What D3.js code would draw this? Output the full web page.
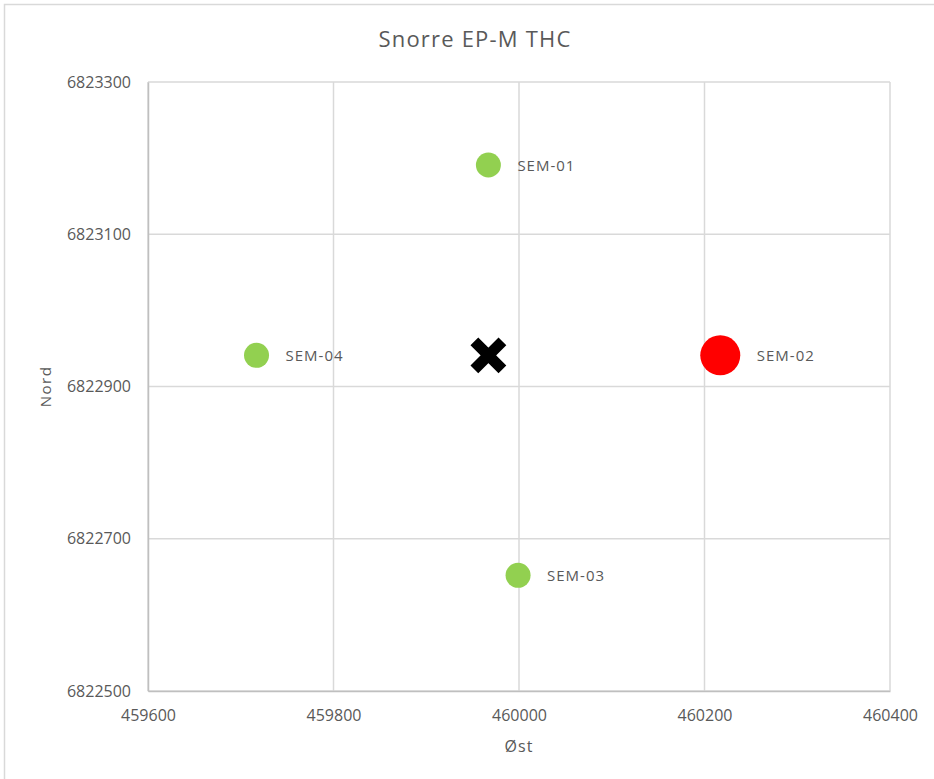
<!DOCTYPE html>
<html><head><meta charset="utf-8">
<script src="https://cdn.jsdelivr.net/npm/d3@7"></script>
<style>body{margin:0;background:#fff;}svg, svg text{font-family:"Open Sans","Liberation Sans",sans-serif;}svg{display:block;}</style>
</head><body>
<script>
const stations = ["SEM-01", "SEM-02", "SEM-03", "SEM-04"];
const east = [459967, 460217, 459999, 459717];
const north = [6823191, 6822941, 6822652, 6822941];
const level = ["low", "high", "low", "low"];
const center = {east: 459967, north: 6822941};
const xTicks = [459600, 459800, 460000, 460200, 460400];
const yTicks = [6822500, 6822700, 6822900, 6823100, 6823300];

const W = 934, H = 779;
const m = {left: 148, right: 44, top: 82, bottom: 88};
const svg = d3.select("body").append("svg").attr("width", W).attr("height", H);
svg.append("rect").attr("x", 4.5).attr("y", 4.5).attr("width", W + 10).attr("height", H + 10)
  .attr("fill", "#fff").attr("stroke", "#d9d9d9").attr("stroke-width", 1.5);

const x = d3.scaleLinear().domain([459600, 460400]).range([m.left, W - m.right]);
const y = d3.scaleLinear().domain([6822500, 6823300]).range([H - m.bottom, m.top]);

const grid = svg.append("g");
grid.selectAll(".vx").data(xTicks).join("line")
  .attr("x1", d => x(d)).attr("x2", d => x(d)).attr("y1", y.range()[1]).attr("y2", y.range()[0])
  .attr("stroke", "#d9d9d9").attr("stroke-width", 1.5);
grid.selectAll(".hy").data(yTicks).join("line")
  .attr("y1", d => y(d)).attr("y2", d => y(d)).attr("x1", x.range()[0]).attr("x2", x.range()[1])
  .attr("stroke", "#d9d9d9").attr("stroke-width", 1.5);

const xAxis = svg.append("g").attr("transform", `translate(0,${y.range()[0]})`)
  .call(d3.axisBottom(x).tickValues(xTicks).tickFormat(d3.format("d")).tickSize(0).tickPadding(19));
xAxis.select(".domain").attr("stroke", "#bfbfbf").attr("stroke-width", 1.5);
xAxis.selectAll("text").attr("fill", "#595959").style("font-size", "16px");

const yAxis = svg.append("g").attr("transform", `translate(${x.range()[0]},0)`)
  .call(d3.axisLeft(y).tickValues(yTicks).tickFormat(d3.format("d")).tickSize(0).tickPadding(17));
yAxis.select(".domain").attr("stroke", "#bfbfbf").attr("stroke-width", 1.5);
yAxis.selectAll("text").attr("fill", "#595959").style("font-size", "16px");

svg.append("text").attr("x", 475).attr("y", 47).attr("text-anchor", "middle")
  .attr("fill", "#595959").style("font-size", "22px").style("letter-spacing", "1.2px").text("Snorre EP-M THC");
svg.append("text").attr("x", x(460000)).attr("y", 752).attr("text-anchor", "middle")
  .attr("fill", "#595959").style("font-size", "16px").style("letter-spacing", "1px").text("Øst");
svg.append("text").attr("transform", `translate(51,${y(6822900)}) rotate(-90)`).attr("text-anchor", "middle")
  .attr("fill", "#595959").style("font-size", "15px").style("letter-spacing", "1.5px").text("Nord");

const data = stations.map((s, i) => ({s, e: east[i], n: north[i], lv: level[i]}));
const r = d => d.lv === "high" ? 20 : 12.5;
svg.selectAll(".pt").data(data).join("circle")
  .attr("cx", d => x(d.e)).attr("cy", d => y(d.n)).attr("r", r)
  .attr("fill", d => d.lv === "high" ? "#ff0000" : "#92d050");
svg.selectAll(".lb").data(data).join("text")
  .attr("x", d => x(d.e) + r(d) + 16.5).attr("y", d => y(d.n) + 6)
  .attr("fill", "#595959").style("font-size", "15px").style("letter-spacing", "1px").text(d => d.s);

svg.append("path").attr("d", d3.symbol(d3.symbolX, 515)())
  .attr("transform", `translate(${x(center.east)},${y(center.north)})`)
  .attr("fill", "none").attr("stroke", "#000").attr("stroke-width", 11);
</script>
</body></html>
